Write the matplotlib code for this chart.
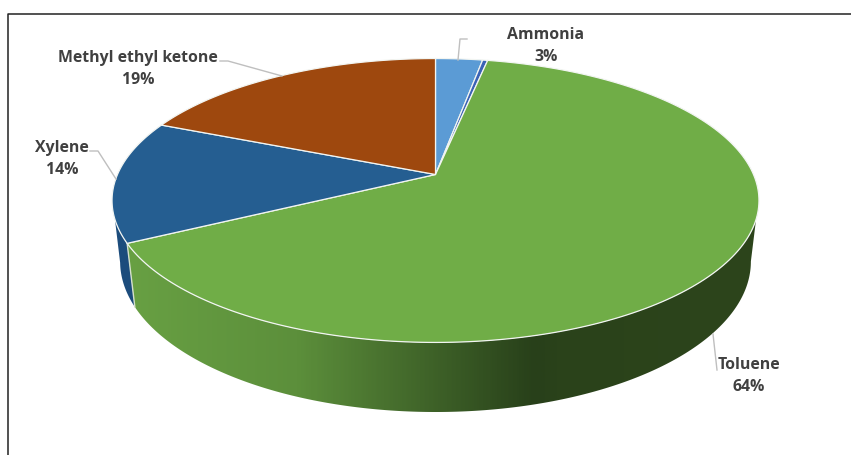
import numpy as np
import matplotlib
matplotlib.use('Agg')
import matplotlib.pyplot as plt
from matplotlib.colors import LinearSegmentedColormap
from matplotlib.patches import Polygon

# Slice values, clockwise from the top (the second slice has no label)
names = ['Ammonia', '', 'Toluene', 'Xylene', 'Methyl ethyl ketone']
values = [2.8, 0.3, 64.3, 13.9, 18.7]
colors = ['#5b9bd5', '#3a62b5', '#70ad47', '#255e91', '#9e480e']

# Label centres in pixels
label_pos = {'Ammonia': (546, 35), 'Toluene': (749, 365), 'Xylene': (62, 148),
             'Methyl ethyl ketone': (138, 58)}
leaders = [([458, 460, 467], [61, 40, 40]), ([220, 228, 282], [62, 62, 77]),
           ([90, 98, 116], [152, 152, 180]), ([713, 717], [335, 371])]

# Perspective of the pie disc
cx, cy = 435.5, 175.5
rx, ry, tilt = 318, 137.2, 0.183


def project(theta, sx=1.0, sy=1.0, y0=cy):
    # theta in degrees, clockwise from the back of the disc
    t = np.radians(theta)
    d = 1 + tilt * np.cos(t)
    return cx + sx * rx * np.sin(t) / d, y0 - sy * ry * np.cos(t) / d


def rim(a, b, bottom=False):
    th = np.linspace(a, b, 200)
    if bottom:
        return np.column_stack(project(th, 0.975, 1.06, 235))
    return np.column_stack(project(th))


fig = plt.figure(figsize=(8.51, 4.56), dpi=100)
ax = fig.add_axes([0, 0, 1, 1])
ax.set_xlim(0, 851)
ax.set_ylim(456, 0)
ax.axis('off')

edges = np.concatenate([[0], np.cumsum(values)]) / sum(values) * 360
tol_a, tol_b = edges[2], edges[3]

# Side wall
blue_wall = np.vstack([rim(tol_b, 252), rim(tol_b, 259, True)[::-1]])
ax.add_patch(Polygon(blue_wall, fc='#1c4c7c', ec='none', zorder=1))

green_wall = np.vstack([rim(108, tol_b), rim(100.5, tol_b, True)[::-1]])
wall = Polygon(green_wall, fc='none', ec='none', zorder=2)
ax.add_patch(wall)
shade = LinearSegmentedColormap.from_list(
    'wall', [(0, '#68a043'), (0.27, '#5c8f3b'), (0.645, '#28401a'), (0.68, '#2a421a'),
             (1, '#2d451c')])
img = ax.imshow(np.linspace(0, 1, 400)[None, :], cmap=shade, aspect='auto',
                extent=(125, 760, 456, 0), zorder=2)
img.set_clip_path(wall)
ax.set_xlim(0, 851)
ax.set_ylim(456, 0)
ax.plot(*np.array([rim(tol_b, tol_b)[0], rim(tol_b, tol_b, True)[0]]).T,
        color='#d5e0cc', lw=1, zorder=3)

# Top of the pie
for i, c in enumerate(colors):
    pts = np.vstack([[cx, cy], rim(edges[i], edges[i + 1])])
    ax.add_patch(Polygon(pts, fc=c, ec='#f2f5f2', lw=0.9, joinstyle='round', zorder=4))

# Leader lines
for xs, ys in leaders:
    ax.plot(xs, ys, color='#bfbfbf', lw=1, zorder=5)

# Labels
for name, v in zip(names, values):
    if not name:
        continue
    x, y = label_pos[name]
    txt = dict(ha='center', va='center', color='#404040', fontweight='bold',
               family='Open Sans', fontsize=11.4, zorder=6)
    ax.text(x, y, name, **txt)
    ax.text(x, y + 22, f'{round(v)}%', **txt)

# Chart frame, cut by the crop on the right and bottom
ax.plot([7.5, 7.5, 851], [456, 14.5, 14.5], color='#222222', lw=1.1, zorder=7)

fig.savefig('out.png', dpi=100)
